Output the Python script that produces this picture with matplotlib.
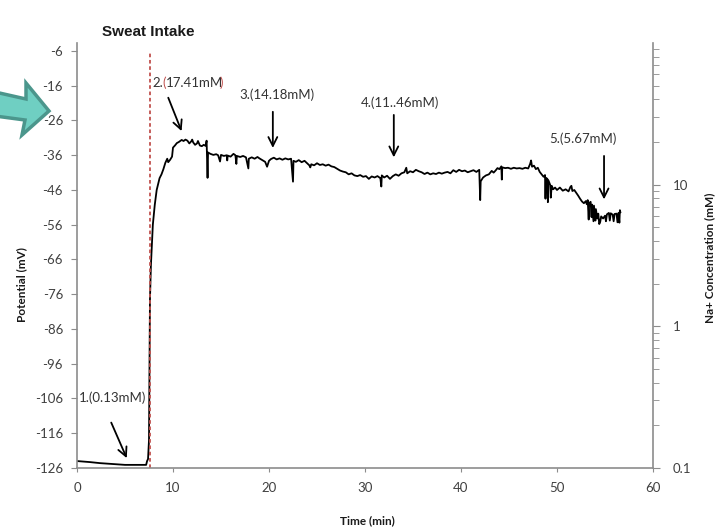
import matplotlib.pyplot as plt
from matplotlib.patches import Polygon
from matplotlib.ticker import FixedLocator, LogLocator, NullFormatter

plt.rcParams['axes.unicode_minus'] = False

# Data (time in min, potential in mV)
time_min = [0.0, 1.35, 2.4, 3.96, 5.0, 7.2, 7.3, 7.4, 7.5, 7.6, 7.7, 7.8, 7.9, 8.1,
            8.3, 8.6, 8.8, 9.0, 9.2, 9.4, 9.5, 9.7, 9.9, 10.0, 10.2, 10.4, 10.6,
            10.9, 11.1, 11.3, 11.5, 11.7, 11.9, 12.0, 12.1, 12.3, 12.5, 12.6, 12.8,
            13.0, 13.2, 13.4, 13.5, 13.6, 13.65, 13.9, 14.2, 14.5, 14.7, 14.9, 15.0,
            15.3, 15.6, 15.65, 15.7, 16.0, 16.3, 16.5, 16.6, 16.65, 17.0, 17.3, 17.6,
            17.85, 17.9, 18.2, 18.5, 18.8, 19.0, 19.3, 19.6, 19.8, 20.0, 20.2, 20.5,
            20.8, 21.1, 21.4, 21.7, 22.0, 22.3, 22.5, 22.55, 22.8, 23.1, 23.4, 23.7,
            24.0, 24.2, 24.3, 24.4, 24.7, 25.0, 25.3, 25.6, 25.9, 26.2, 26.5, 26.8,
            27.1, 27.4, 27.7, 28.0, 28.3, 28.6, 28.9, 29.2, 29.5, 29.8, 30.1, 30.4,
            30.7, 31.0, 31.3, 31.6, 31.7, 31.75, 32.0, 32.3, 32.6, 32.9, 33.2, 33.5,
            33.8, 34.1, 34.3, 34.4, 34.7, 35.0, 35.3, 35.6, 35.9, 36.2, 36.5, 36.8,
            37.1, 37.4, 37.7, 38.0, 38.3, 38.6, 38.9, 39.2, 39.5, 39.8, 40.1, 40.4,
            40.7, 41.0, 41.3, 41.6, 41.9, 42.0, 42.05, 42.3, 42.6, 42.9, 43.2, 43.4,
            43.6, 43.8, 44.0, 44.2, 44.25, 44.3, 44.6, 44.9, 45.2, 45.5, 45.8, 46.1,
            46.4, 46.7, 47.0, 47.2, 47.3, 47.4, 47.6, 47.8, 48.0, 48.2, 48.4, 48.6,
            48.75, 48.8, 48.85, 49.0, 49.05, 49.1, 49.3, 49.35, 49.45, 49.6, 49.8,
            50.0, 50.3, 50.6, 50.9, 51.2, 51.4, 51.5, 51.6, 51.8, 52.0, 52.2, 52.4,
            52.6, 52.8, 53.0, 53.1, 53.2, 53.3, 53.35, 53.5, 53.6, 53.65, 53.8, 53.85,
            54.0, 54.05, 54.2, 54.3, 54.4, 54.5, 54.6, 54.8, 55.0, 55.1, 55.2, 55.4,
            55.5, 55.6, 55.8, 55.9, 56.0, 56.2, 56.3, 56.4, 56.5, 56.55, 56.6]
potential_mv = [-124.0, -124.3, -124.6, -124.9, -125.1, -125.1, -124.0, -123.4, -118.0,
                -77.6, -67.6, -61.8, -56.0, -50.3, -46.0, -42.6, -41.5, -40.0, -38.2,
                -37.0, -38.0, -37.3, -36.4, -33.8, -33.2, -32.5, -32.2, -31.6, -31.9,
                -31.5, -31.8, -32.6, -32.0, -31.5, -32.3, -33.0, -32.6, -31.9, -33.2,
                -33.4, -33.0, -33.3, -31.8, -42.5, -35.2, -35.6, -35.9, -35.7, -36.0,
                -37.8, -35.9, -36.2, -36.0, -37.5, -36.1, -36.4, -35.6, -36.0, -38.5,
                -36.2, -36.5, -36.2, -36.6, -39.8, -37.0, -36.6, -37.0, -36.5, -36.9,
                -37.4, -37.9, -39.3, -37.6, -37.1, -36.7, -37.2, -36.9, -37.3, -36.9,
                -37.2, -37.0, -43.6, -37.6, -37.9, -37.4, -38.0, -37.6, -38.4, -38.9,
                -39.5, -38.6, -38.9, -38.3, -38.8, -38.6, -39.0, -38.7, -39.2, -39.4,
                -39.9, -40.4, -40.7, -40.9, -41.5, -41.2, -41.8, -42.0, -41.7, -42.2,
                -42.0, -42.8, -42.1, -42.4, -42.0, -42.6, -45.0, -41.8, -42.4, -41.9,
                -42.8, -42.0, -41.5, -41.9, -41.2, -40.9, -39.6, -41.2, -40.6, -40.9,
                -40.2, -40.6, -40.9, -41.4, -41.0, -41.5, -41.2, -41.4, -41.0, -41.3,
                -41.0, -40.8, -41.2, -40.3, -40.8, -40.2, -40.6, -40.4, -40.9, -40.6,
                -40.3, -40.8, -40.2, -48.9, -43.5, -42.4, -41.8, -41.5, -40.5, -41.0,
                -40.4, -39.7, -40.0, -39.2, -43.0, -39.5, -39.7, -39.6, -39.9, -39.6,
                -39.8, -39.7, -39.9, -39.6, -39.8, -38.5, -37.5, -39.3, -39.0, -40.0,
                -39.6, -40.8, -41.5, -42.2, -41.7, -48.5, -42.5, -42.8, -49.5, -43.2,
                -44.6, -48.2, -44.8, -45.8, -45.3, -46.0, -45.3, -46.2, -45.8, -46.4,
                -45.1, -44.8, -46.3, -46.0, -46.8, -47.6, -48.5, -49.3, -49.8, -49.2,
                -50.1, -48.9, -54.5, -49.8, -49.4, -53.8, -50.2, -55.0, -50.5, -54.8,
                -51.5, -54.2, -52.8, -55.8, -55.2, -53.6, -54.2, -53.4, -55.0, -53.0,
                -52.6, -54.8, -52.7, -53.1, -55.0, -52.9, -52.8, -55.3, -52.6, -55.4,
                -51.8, -52.4]

intake_time = 7.6
y_ticks = [-126, -116, -106, -96, -86, -76, -66, -56, -46, -36, -26, -16, -6]
x_ticks = [0, 10, 20, 30, 40, 50, 60]
conc_ticks = [0.1, 1, 10]
conc_labels = ['0.1', '1', '10']

# label number, concentration text, text centre, arrow start, arrow end
notes = [
    ('1.', '0.13mM', (3.7, -105.9), (3.45, -112.2), (5.3, -123.9)),
    ('2.', '17.41mM', (11.8, -15.2), (9.4, -18.7), (11.0, -29.8)),
    ('3.', '14.18mM', (20.8, -18.7), (20.4, -22.7), (20.4, -34.7)),
    ('4.', '11..46mM', (33.6, -21.0), (33.0, -23.6), (33.0, -37.4)),
    ('5.', '5.67mM', (52.65, -31.3), (54.9, -35.4), (54.9, -49.5)),
]

font = ['Lato', 'DejaVu Sans']
grey = '#8c8c8c'
tick_col = '#404040'
txt_col = '#333333'
red = '#c0504d'

fig = plt.figure(figsize=(7.28, 5.29), dpi=100)
ax = fig.add_axes([77 / 728, 1 - 468 / 529, 576 / 728, 425 / 529])

ax.plot(time_min, potential_mv, color='black', lw=1.3)
ax.plot([intake_time, intake_time], [-126, -6.6], color=red, lw=1.3,
        ls=(0, (2, 1.5)))

ax.set_xlim(0, 60)
ax.set_ylim(-126, -3.7)
ax.set_xticks(x_ticks)
ax.set_yticks(y_ticks)
for s in ['top', 'right']:
    ax.spines[s].set_visible(False)
for s in ['left', 'bottom']:
    ax.spines[s].set_color(grey)
    ax.spines[s].set_linewidth(1.2)
ax.tick_params(axis='y', length=4, color=grey, pad=6, labelsize=9.5,
               labelcolor=tick_col)
ax.tick_params(axis='x', length=3, color=grey, pad=7, labelsize=9.5,
               labelcolor=tick_col)
for lab in ax.get_xticklabels() + ax.get_yticklabels():
    lab.set_family(font)

ax2 = ax.twinx()
ax2.set_yscale('log')
ax2.set_ylim(0.1, 100)
ax2.yaxis.set_major_locator(FixedLocator(conc_ticks))
ax2.set_yticklabels(conc_labels)
ax2.yaxis.set_minor_locator(LogLocator(base=10, subs=range(2, 10)))
ax2.yaxis.set_minor_formatter(NullFormatter())
for s in ['top', 'left', 'bottom']:
    ax2.spines[s].set_visible(False)
ax2.spines['right'].set_color(grey)
ax2.spines['right'].set_linewidth(1.2)
ax2.tick_params(axis='y', which='major', length=5, color=grey, pad=9,
                labelsize=9.5, labelcolor=tick_col)
ax2.tick_params(axis='y', which='minor', length=4, color=grey)
for lab in ax2.get_yticklabels():
    lab.set_family(font)

# arrows and labels; label 2 has red brackets
fig.canvas.draw()
r = fig.canvas.get_renderer()
probe = fig.text(0, 0, '', fontsize=9.5, family=font)


def text_width(s):
    probe.set_text(s)
    return probe.get_window_extent(r).width


for num, conc, txy, a0, a1 in notes:
    ax.annotate('', xy=a1, xytext=a0,
                arrowprops=dict(arrowstyle='->', color='black', lw=1.3,
                                mutation_scale=16))
    full = num + '(' + conc + ')'
    x0, y0 = ax.transData.transform(txy)
    x0 -= text_width(full) / 2
    if num != '2.':
        fig.text(x0, y0, full, fontsize=9.5, family=font, color=txt_col,
                 ha='left', va='center', transform=None)
        continue
    # pieces nudged left a little: measured widths leave small gaps
    fig.text(x0, y0, num, fontsize=9.5, family=font, color=txt_col,
             ha='left', va='center', transform=None)
    fig.text(x0 + text_width(num) - 1.5, y0, '(', fontsize=9.5, family=font,
             color=red, ha='left', va='center', transform=None)
    fig.text(x0 + text_width(num + '(') - 1.5, y0, conc, fontsize=9.5,
             family=font, color=txt_col, ha='left', va='center', transform=None)
    fig.text(x0 + text_width(num + '(' + conc) - 4.5, y0, ')', fontsize=9.5,
             family=font, color=red, ha='left', va='center', transform=None)
probe.remove()

fig.text(148 / 728, 1 - 32 / 529, 'Sweat Intake', fontsize=11, fontweight='bold',
         family=['Liberation Sans', 'DejaVu Sans'], ha='center', va='center',
         color='#1a1a1a')
fig.text(367 / 728, 1 - 521 / 529, 'Time (min)', fontsize=8.5, fontweight='bold',
         family=font, ha='center', va='center', color='#1a1a1a')
fig.text(22 / 728, 1 - 285 / 529, 'Potential (mV)', fontsize=8.5, fontweight='bold',
         family=font, ha='center', va='center', rotation=90, color='#1a1a1a')
fig.text(710 / 728, 1 - 258 / 529, 'Na+ Concentration (mM)', fontsize=8.5,
         fontweight='bold', family=font, ha='center', va='center', rotation=90,
         color='#1a1a1a')

# teal block arrow on the left edge
pts = [(-5, 92), (26, 99), (26, 83), (49, 111), (22, 135), (25, 120), (-5, 116)]
pts = [(x / 728, 1 - y / 529) for x, y in pts]
fig.patches.append(Polygon(pts, closed=True, transform=fig.transFigure,
                           facecolor='#6fcfc2', edgecolor='#4b968c', lw=2.5,
                           joinstyle='miter', clip_on=False))

fig.savefig('out.png', dpi=100)
